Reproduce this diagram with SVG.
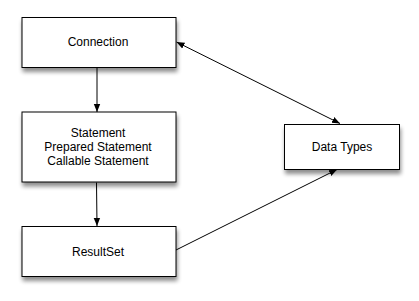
<svg xmlns="http://www.w3.org/2000/svg" width="419" height="301" viewBox="0 0 419 301">
<style>
.box{fill:#fff;stroke:#000;stroke-width:1;filter:url(#sh)}
.lbl{font-family:"Liberation Sans",Arial,sans-serif;font-size:12px;fill:#000;text-anchor:middle}
.edge{stroke:#000;stroke-width:1;fill:none}
</style>
<defs>
<filter id="sh" x="-20%" y="-30%" width="140%" height="170%">
<feGaussianBlur in="SourceAlpha" stdDeviation="2"/>
<feOffset dx="1" dy="4" result="b"/>
<feComponentTransfer><feFuncA type="linear" slope="0.45"/></feComponentTransfer>
<feMerge><feMergeNode/><feMergeNode in="SourceGraphic"/></feMerge>
</filter>
<marker id="ah" viewBox="0 0 10 10" refX="10" refY="5" markerWidth="8" markerHeight="8" orient="auto-start-reverse" markerUnits="userSpaceOnUse">
<path d="M0,1 L10,5 L0,9 Z" fill="#000"/>
</marker>
</defs>
<rect width="419" height="301" fill="#fff"/>
<g id="connectors">
<line class="edge" x1="97" y1="67.5" x2="97" y2="112" marker-end="url(#ah)"/>
<line class="edge" x1="96.5" y1="182.5" x2="97" y2="226" marker-end="url(#ah)"/>
<line class="edge" x1="176.5" y1="42" x2="340" y2="123.5" marker-start="url(#ah)" marker-end="url(#ah)"/>
<line class="edge" x1="176" y1="250" x2="337" y2="169.5" marker-end="url(#ah)"/>
</g>
<g id="connection">
<rect class="box" x="22" y="17.5" width="154" height="50"/>
<text class="lbl" x="98" y="46">Connection</text>
</g>
<g id="statement">
<rect class="box" x="22" y="112" width="154" height="70"/>
<text class="lbl" x="98" y="137">Statement</text>
<text class="lbl" x="98" y="151">Prepared Statement</text>
<text class="lbl" x="98" y="165">Callable Statement</text>
</g>
<g id="resultset">
<rect class="box" x="22" y="226.5" width="154" height="50"/>
<text class="lbl" x="98" y="256">ResultSet</text>
</g>
<g id="datatypes">
<rect class="box" x="284.5" y="124.5" width="115" height="45"/>
<text class="lbl" x="342" y="151">Data Types</text>
</g>
</svg>
